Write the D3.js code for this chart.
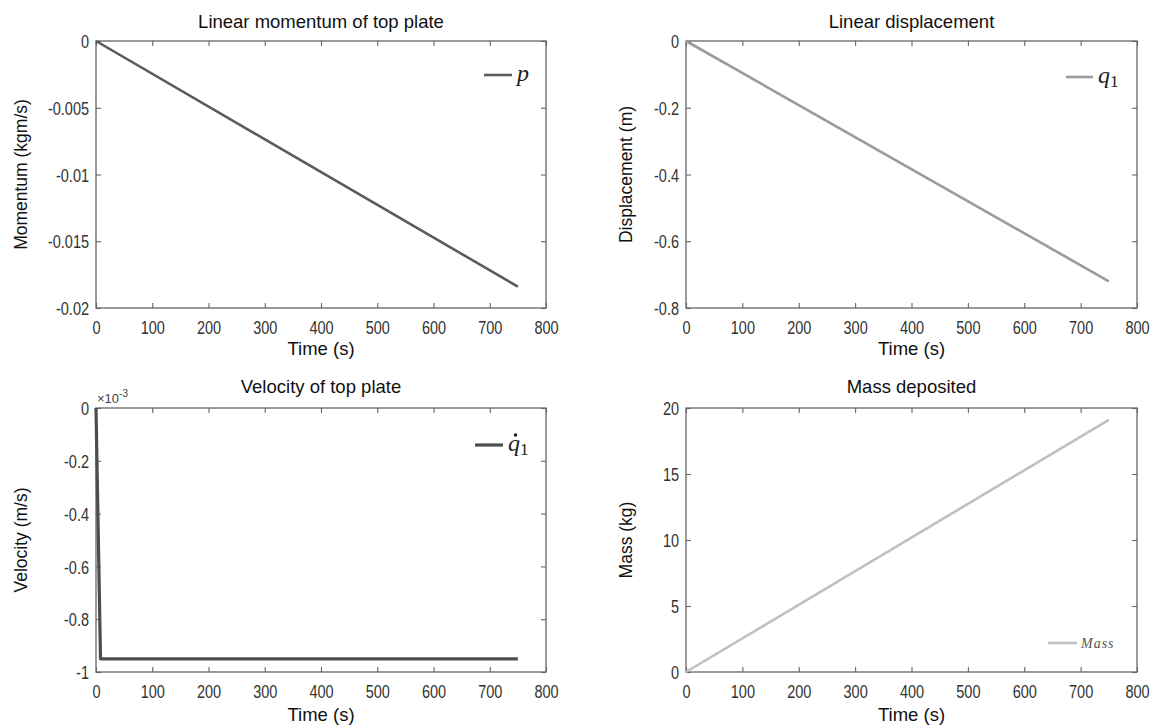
<!DOCTYPE html>
<html>
<head>
<meta charset="utf-8">
<script src="https://cdn.jsdelivr.net/npm/d3@7"></script>
<style>
  body { margin: 0; background: #fff; }
  svg { display: block; font-family: "Liberation Sans", Arial, sans-serif; }
  .tick text { fill: #333; font-size: 14.5px; }
  .frame { fill: none; stroke: #666; stroke-width: 1.3; }
</style>
</head>
<body>
<svg id="chart" width="1158" height="727"></svg>
<script>
// ---- data ----
const timeTicks = [0, 100, 200, 300, 400, 500, 600, 700, 800];

const momentumTime = [0, 750];
const momentumValues = [0, -0.0184];
const momentumTicks = [0, -0.005, -0.01, -0.015, -0.02];

const dispTime = [0, 750];
const dispValues = [0, -0.72];
const dispTicks = [0, -0.2, -0.4, -0.6, -0.8];

// velocity in units of 1e-3 m/s
const velTime = [0, 8, 750];
const velValues = [0, -0.95, -0.95];
const velTicks = [0, -0.2, -0.4, -0.6, -0.8, -1];

const massTime = [0, 750];
const massValues = [0, 19.1];
const massTicks = [0, 5, 10, 15, 20];

const svg = d3.select("#chart");
const stretch = 1.3;   // tick labels in the source look tall and narrow

const panels = [
  {
    title: "Linear momentum of top plate", ylabel: "Momentum (kgm/s)",
    x0: 96, x1: 546, y0: 41, y1: 308, titleY: 28, xlabY: 355, ylabX: 27,
    ydom: [-0.02, 0], yticks: momentumTicks,
    t: momentumTime, v: momentumValues, color: "#5b5b5b", width: 2.6,
    legend: { sym: "p", x: 484, y: 75, len: 28, size: 24 }
  },
  {
    title: "Linear displacement", ylabel: "Displacement (m)",
    x0: 686, x1: 1137, y0: 41, y1: 308, titleY: 28, xlabY: 355, ylabX: 632,
    ydom: [-0.8, 0], yticks: dispTicks,
    t: dispTime, v: dispValues, color: "#9b9b9b", width: 2.6,
    legend: { sym: "q", sub: "1", x: 1066, y: 77, len: 27, size: 24 }
  },
  {
    title: "Velocity of top plate", ylabel: "Velocity (m/s)",
    x0: 96, x1: 546, y0: 408, y1: 672, titleY: 393, xlabY: 721, ylabX: 27,
    ydom: [-1, 0], yticks: velTicks,
    t: velTime, v: velValues, color: "#4d4d4d", width: 3.2, exponent: true,
    legend: { sym: "q", sub: "1", dot: true, x: 475, y: 445, len: 28, size: 24 }
  },
  {
    title: "Mass deposited", ylabel: "Mass (kg)",
    x0: 686, x1: 1137, y0: 408, y1: 672, titleY: 393, xlabY: 721, ylabX: 632,
    ydom: [0, 20], yticks: massTicks,
    t: massTime, v: massValues, color: "#c0c0c0", width: 2.6,
    legend: { sym: "Mass", x: 1048, y: 643, len: 29, size: 14, small: true }
  }
];

const fmt = d => (d === 0 ? "0" : String(d));

panels.forEach(p => {
  const x = d3.scaleLinear().domain([0, 800]).range([p.x0, p.x1]);
  const y = d3.scaleLinear().domain(p.ydom).range([p.y1, p.y0]);
  const g = svg.append("g");
  const digitH = 0.716 * 14.5 * stretch;

  // inward ticks on all four sides, MATLAB box style
  g.append("g").attr("transform", `translate(0,${p.y1})`)
    .call(d3.axisBottom(x).tickValues(timeTicks).tickSize(-5).tickSizeOuter(0).tickFormat(fmt))
    .call(a => a.select(".domain").remove())
    .call(a => a.selectAll(".tick text")
      .attr("y", null).attr("dy", null)
      .attr("transform", `translate(0,${19 + digitH / 2}) scale(1,${stretch})`));
  g.append("g").attr("transform", `translate(0,${p.y0})`)
    .call(d3.axisTop(x).tickValues(timeTicks).tickSize(-5).tickFormat("").tickSizeOuter(0))
    .call(a => a.select(".domain").remove());
  g.append("g").attr("transform", `translate(${p.x0},0)`)
    .call(d3.axisLeft(y).tickValues(p.yticks).tickSize(-5).tickSizeOuter(0).tickFormat(fmt))
    .call(a => a.select(".domain").remove())
    .call(a => a.selectAll(".tick text")
      .attr("x", null).attr("dy", null)
      .attr("transform", `translate(-7,${digitH / 2}) scale(1,${stretch})`));
  g.append("g").attr("transform", `translate(${p.x1},0)`)
    .call(d3.axisRight(y).tickValues(p.yticks).tickSize(-5).tickFormat("").tickSizeOuter(0))
    .call(a => a.select(".domain").remove());
  g.selectAll(".tick line").attr("stroke", "#666").attr("stroke-width", 1.1);

  g.append("rect").attr("class", "frame")
    .attr("x", p.x0).attr("y", p.y0)
    .attr("width", p.x1 - p.x0).attr("height", p.y1 - p.y0);

  // series line
  const pts = p.t.map((t, i) => [t, p.v[i]]);
  g.append("path").datum(pts)
    .attr("fill", "none")
    .attr("stroke", p.color)
    .attr("stroke-width", p.width)
    .attr("stroke-linejoin", "round")
    .attr("d", d3.line().x(d => x(d[0])).y(d => y(d[1])));

  // title and axis labels
  g.append("text")
    .attr("x", (p.x0 + p.x1) / 2).attr("y", p.titleY)
    .attr("text-anchor", "middle").attr("font-size", 18.5).attr("fill", "#111")
    .text(p.title);
  g.append("text")
    .attr("x", (p.x0 + p.x1) / 2).attr("y", p.xlabY)
    .attr("text-anchor", "middle").attr("font-size", 18.5).attr("fill", "#111")
    .text("Time (s)");
  g.append("text")
    .attr("transform", `translate(${p.ylabX},${(p.y0 + p.y1) / 2}) rotate(-90)`)
    .attr("text-anchor", "middle").attr("font-size", 17.5).attr("fill", "#111")
    .text(p.ylabel);

  if (p.exponent) {
    const e = g.append("text").attr("x", p.x0 + 1).attr("y", p.y0 - 5)
      .attr("font-size", 13).attr("fill", "#444");
    e.append("tspan").text("×10");
    e.append("tspan").attr("dy", -6).attr("font-size", 10).text("-3");
  }

  // legend
  const L = p.legend;
  g.append("line")
    .attr("x1", L.x).attr("x2", L.x + L.len)
    .attr("y1", L.y).attr("y2", L.y)
    .attr("stroke", p.color).attr("stroke-width", p.width);
  const tx = L.x + L.len + (L.small ? 4 : 5);
  const base = L.y + (L.small ? 5 : 6);
  const lt = g.append("text")
    .attr("x", tx).attr("y", base)
    .attr("font-family", "'Liberation Serif', 'DejaVu Serif', serif")
    .attr("font-style", "italic").attr("font-size", L.size)
    .attr("letter-spacing", L.small ? 1 : 0)
    .attr("fill", L.small ? "#555" : "#222");
  lt.append("tspan").text(L.sym);
  if (L.sub) {
    lt.append("tspan").attr("dy", 4).attr("font-style", "normal")
      .attr("font-size", L.size * 0.72).text(L.sub);
  }
  if (L.dot) {
    // time-derivative dot above the q
    g.append("circle").attr("cx", tx + 7.5).attr("cy", base - 16)
      .attr("r", 1.8).attr("fill", "#222");
  }
});
</script>
</body>
</html>
